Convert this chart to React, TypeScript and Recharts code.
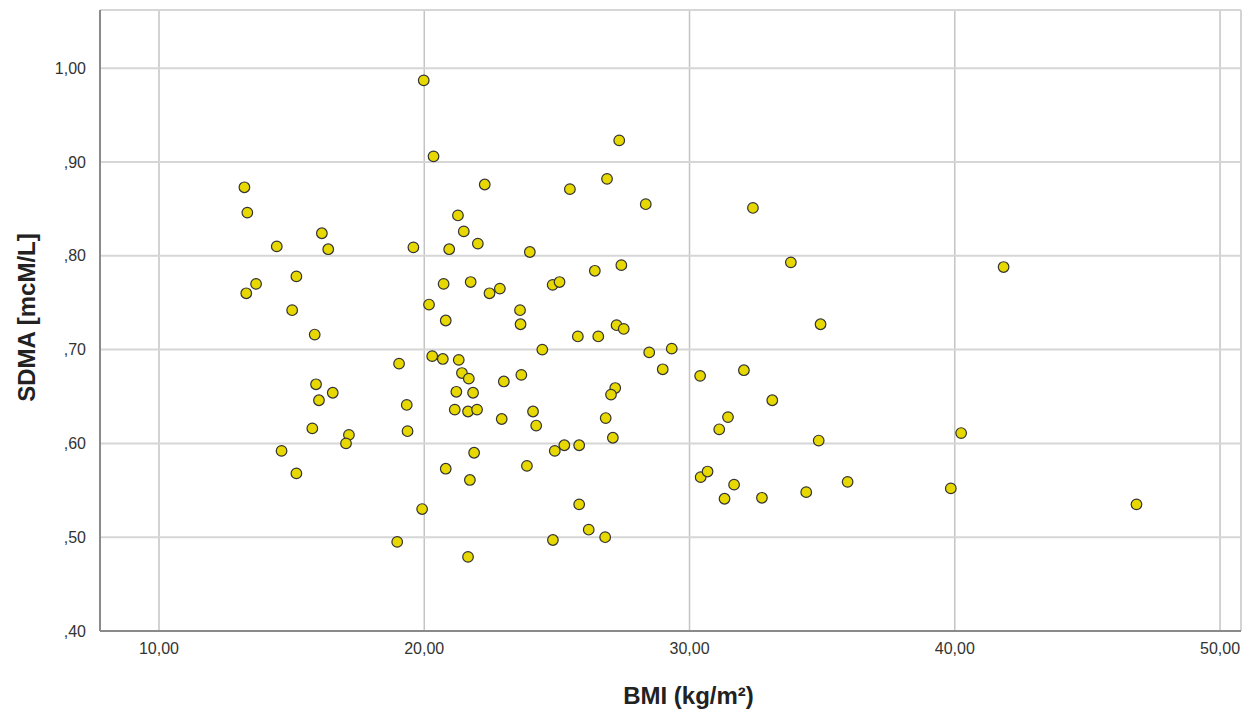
import { ScatterChart, Scatter, XAxis, YAxis, CartesianGrid, Label } from 'recharts';

// BMI (kg/m²) per subject
const bmi = [
  13.22, 13.33, 14.44, 16.14, 16.38, 19.59, 15.18, 13.66, 13.29, 15.02,
  15.87, 19.98, 20.35, 27.35, 22.28, 25.49, 26.89, 28.35, 32.39, 21.27,
  21.49, 22.02, 20.94, 23.98, 33.82, 26.43, 27.43, 20.73, 21.75, 22.46,
  22.85, 24.84, 25.10, 20.18, 20.81, 23.61, 23.63, 27.25, 27.52, 25.79,
  26.56, 24.45, 28.48, 29.33, 20.30, 20.70, 21.30, 34.94, 41.84, 19.05,
  15.92, 16.55, 16.03, 19.34, 15.78, 19.37, 17.16, 17.05, 14.62, 15.18,
  19.92, 18.98, 21.42, 21.68, 23.66, 23.00, 28.99, 30.40, 32.05, 21.21,
  21.84, 27.20, 27.04, 33.12, 21.15, 21.65, 21.99, 22.92, 24.10, 24.22,
  26.84, 31.45, 31.12, 27.11, 34.87, 24.92, 25.28, 25.84, 21.88, 20.81,
  23.87, 21.72, 30.42, 30.68, 31.68, 31.32, 32.73, 34.40, 25.84, 26.20,
  24.85, 26.82, 21.65, 40.24, 35.96, 39.85, 46.85,
];

// SDMA (mcM/L) per subject, same order as bmi
const sdma = [
  0.873, 0.846, 0.810, 0.824, 0.807, 0.809, 0.778, 0.770, 0.760, 0.742,
  0.716, 0.987, 0.906, 0.923, 0.876, 0.871, 0.882, 0.855, 0.851, 0.843,
  0.826, 0.813, 0.807, 0.804, 0.793, 0.784, 0.790, 0.770, 0.772, 0.760,
  0.765, 0.769, 0.772, 0.748, 0.731, 0.742, 0.727, 0.726, 0.722, 0.714,
  0.714, 0.700, 0.697, 0.701, 0.693, 0.690, 0.689, 0.727, 0.788, 0.685,
  0.663, 0.654, 0.646, 0.641, 0.616, 0.613, 0.609, 0.600, 0.592, 0.568,
  0.530, 0.495, 0.675, 0.669, 0.673, 0.666, 0.679, 0.672, 0.678, 0.655,
  0.654, 0.659, 0.652, 0.646, 0.636, 0.634, 0.636, 0.626, 0.634, 0.619,
  0.627, 0.628, 0.615, 0.606, 0.603, 0.592, 0.598, 0.598, 0.590, 0.573,
  0.576, 0.561, 0.564, 0.570, 0.556, 0.541, 0.542, 0.548, 0.535, 0.508,
  0.497, 0.500, 0.479, 0.611, 0.559, 0.552, 0.535,
];

const xTicks = [10, 20, 30, 40, 50];
const yTicks = [0.4, 0.5, 0.6, 0.7, 0.8, 0.9, 1.0];

const points = bmi.map((x, i) => ({ bmi: x, sdma: sdma[i] }));

const fmtX = (v: number) => v.toFixed(2).replace('.', ',');
const fmtY = (v: number) => {
  const s = v.toFixed(2).replace('.', ',');
  return s.startsWith('0') ? s.slice(1) : s;
};

const tickStyle = { fontSize: 16, fill: '#333', fontFamily: 'Liberation Sans, Arial, sans-serif' };
const titleStyle = { fontSize: 24, fontWeight: 700, fill: '#222', fontFamily: 'Liberation Sans, Arial, sans-serif' };

function Dot(props: any) {
  const { cx, cy } = props;
  if (cx == null || cy == null) return null;
  return <circle cx={cx} cy={cy} r={5.3} fill="#e6d800" stroke="#333" strokeWidth={1.2} />;
}

export default function App() {
  return (
    <div style={{ position: 'absolute', left: 0, top: 0, background: '#fff' }}>
      <ScatterChart width={1259} height={715} margin={{ top: 10, right: 18, bottom: 0, left: 0 }}>
        <CartesianGrid horizontal={false} stroke="#c4c4c4" strokeWidth={1.5} />
        <CartesianGrid vertical={false} stroke="#d6d6d6" strokeWidth={2} />
        <XAxis
          type="number"
          dataKey="bmi"
          domain={[7.776, 50.79]}
          ticks={xTicks}
          tickFormatter={fmtX}
          height={84}
          tickLine={false}
          axisLine={{ stroke: '#8a8a8a', strokeWidth: 2 }}
          tick={tickStyle}
          tickMargin={6}
          allowDataOverflow
        >
          <Label value="BMI (kg/m²)" position="insideBottom" offset={11} dx={18} style={titleStyle} />
        </XAxis>
        <YAxis
          type="number"
          dataKey="sdma"
          domain={[0.4, 1.062]}
          ticks={yTicks}
          tickFormatter={fmtY}
          width={100}
          tickLine={false}
          axisLine={{ stroke: '#8a8a8a', strokeWidth: 2 }}
          tick={tickStyle}
          tickMargin={8}
          allowDataOverflow
        >
          <Label value="SDMA [mcM/L]" angle={-90} position="center" dx={-24} dy={-3} style={titleStyle} />
        </YAxis>
        <Scatter data={points} shape={<Dot />} isAnimationActive={false} />
      </ScatterChart>
    </div>
  );
}
